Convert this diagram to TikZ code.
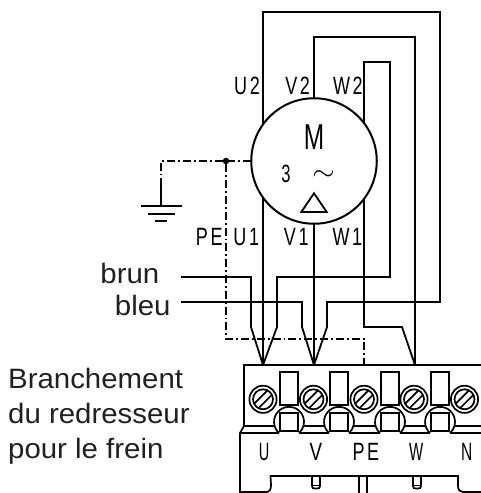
\documentclass[tikz,border=0pt]{standalone}
\usepackage{fontspec}
\setmainfont{Liberation Sans}
\newfontfamily\isofont[LetterSpace=15]{Liberation Sans}
\newfontfamily\plainiso{Liberation Sans}
\newcommand{\isotext}[2][.72]{\scalebox{#1}[1]{\fontsize{25bp}{25bp}\selectfont\isofont #2\kern-3.75bp}}
\newcommand{\capt}[1]{\scalebox{1.05}[1]{\fontsize{28bp}{35bp}\selectfont #1}}
\definecolor{txt}{HTML}{231F20}
\tikzset{
  wire/.style={line width=1.8bp,line join=miter},
  thin part/.style={line width=1.7bp},
  earth/.style={line width=1.7bp,dash pattern=on 8bp off 3bp on 1.8bp off 3bp},
  iso/.style={inner sep=0pt,anchor=base,text=black},
  caption/.style={inner sep=0pt,text=txt},
}
\begin{document}
\begin{tikzpicture}[x=1bp,y=-1bp]
\useasboundingbox (0,0) rectangle (481,493);
\clip (0,0) rectangle (481,493);
\node[circle,draw,fill=white,line width=2bp,minimum size=125.5bp,inner sep=0pt,outer sep=0pt] (motor) at (314,161) {};
% terminal points
\coordinate (tU) at (263,365);
\coordinate (tV) at (314,365);
\coordinate (tPE) at (364,365);
\coordinate (tW) at (415,365);
\coordinate (brunL) at (181,277);
\coordinate (bleuL) at (181,302);
\coordinate (mU2) at (263,124.4);
\coordinate (mU1) at (263,197.6);
\coordinate (mW2) at (364,123.1);
\coordinate (mW1) at (364,198.9);
% wires
\draw[wire] (mU2) -- (263,12) -- (440,12) -- (440,302) -- (327,302) -- (327,327) -- (tV);
\draw[wire] (motor.90) -- (314,37) -- (415,37) -- (tW);
\draw[wire] (mW2) -- (364,62) -- (390,62) -- (390,277) -- (277,277) -- (277,327) -- (tU);
\draw[wire] (mU1) -- (tU);
\draw[wire] (motor.270) -- (tV);
\draw[wire] (mW1) -- (364,327) -- (402,327) -- (tW);
\draw[wire] (brunL) -- (251,277) -- (251,327) -- (tU);
\draw[wire] (bleuL) -- (302,302) -- (302,327) -- (tV);
% earth
\node[circle,fill=black,inner sep=0pt,minimum size=6.5bp] (dot) at (226,161) {};
\coordinate (gndtop) at (161,206);
\draw[earth] (motor.180) -- (dot);
\draw[earth] (dot) -- (161,161) -- (161,177);
\draw[wire] (161,178) -- (gndtop);
\draw[earth] (dot) -- (226,339) -- (364,339) -- (tPE);
\draw[wire] (141,206) -- (182,206);
\draw[wire] (148,214) -- (175,214);
\draw[wire] (155,221) -- (167,221);
% motor symbols
\draw[line width=1.8bp,line join=miter] (314,193.3) -- (326.7,212) -- (301.3,212) -- cycle;
\node[iso] (mM) at (314,149.3) {\scalebox{.68}[1]{\fontsize{36bp}{36bp}\selectfont\plainiso M}};
\node[iso] (m3) at (286,183) {\scalebox{.66}[1]{\fontsize{25bp}{25bp}\selectfont\plainiso 3}};
\node[iso] (mw) at (323.7,180.8) {\scalebox{2.9}[2.7]{$\sim$}};
% labels
\node[iso] (lU2) at (245.7,94.3) {\isotext{U2}};
\node[iso] (lV2) at (296.3,94.3) {\isotext{V2}};
\node[iso] (lW2) at (346.5,94.3) {\isotext{W2}};
\node[iso] (lPE) at (208,245) {\isotext{PE}};
\node[iso] (lU1) at (245,245) {\isotext{U1}};
\node[iso] (lV1) at (295,245) {\isotext{V1}};
\node[iso] (lW1) at (346,245) {\isotext{W1}};
\node[iso] (tlU) at (263,460) {\isotext[.58]{U}};
\node[iso] (tlV) at (314.5,460) {\isotext[.75]{V}};
\node[iso] (tlPE) at (364.5,460) {\isotext{PE}};
\node[iso] (tlW) at (415,460) {\isotext[.6]{W}};
\node[iso] (tlN) at (465.5,460) {\isotext[.62]{N}};
% captions
\node[caption,anchor=base east] (brun) at (159.5,283.3) {\capt{brun}};
\node[caption,anchor=base east] (bleu) at (170.7,315.7) {\capt{bleu}};
\node[caption,anchor=base west] (c1) at (8,388.3) {\capt{Branchement}};
\node[caption,anchor=base west] (c2) at (8,423.3) {\capt{du redresseur}};
\node[caption,anchor=base west] (c3) at (8,458.3) {\capt{pour le frein}};
% terminal block
\draw[thin part] (244,426) -- (244,365) -- (481,365);
\draw[thin part] (244,426) -- (240,433) -- (240,492) -- (266,492) .. controls (270,492) and (271,489) .. (271,485) -- (270.5,476) -- (458,476) -- (458,486) .. controls (458,490) and (460,492) .. (463,492) -- (481,492);
\draw[thin part] (359,476) -- (359,493) (367,476) -- (367,493);
\foreach \px in {316,417}{
  \draw[thin part] (\px-4,476) -- (\px-4,486) .. controls (\px-4,488) and (\px-3,488.5) .. (\px-1,488.5) -- (\px+1,488.5) .. controls (\px+3,488.5) and (\px+4,488) .. (\px+4,486) -- (\px+4,476);
  \draw[thin part] (\px-4,485.5) -- (\px+4,485.5);
}
\foreach \cx in {263,313.5,364,414,464.5}{
  \draw[thin part] (\cx,399.3) circle[radius=13.6];
  \draw[thin part] (\cx,399.3) circle[radius=10];
  \draw[thin part] (\cx-8.6,399.3+4.2) -- (\cx+4.2,399.3-8.6);
  \draw[thin part] (\cx-4.2,399.3+8.6) -- (\cx+8.6,399.3-4.2);
}
\foreach \cx in {289,339,390,440}{
  \draw[thin part] (\cx-9,372) rectangle (\cx+9,405);
  \draw[thin part] (\cx-9,413) rectangle (\cx+9,431);
  \draw[thin part] (\cx-10,433) arc[start angle=132,end angle=408,radius=15];
}
\foreach \xa/\xb in {240/279,299/329,349/380,400/430,450/481}{
  \draw[thin part] (\xa,433) -- (\xb,433);
}
\foreach \xa/\xb in {244/275,303/325,353/376,404/426,454/481}{
  \draw[thin part] (\xa,426) -- (\xb,426);
}
\end{tikzpicture}
\end{document}
